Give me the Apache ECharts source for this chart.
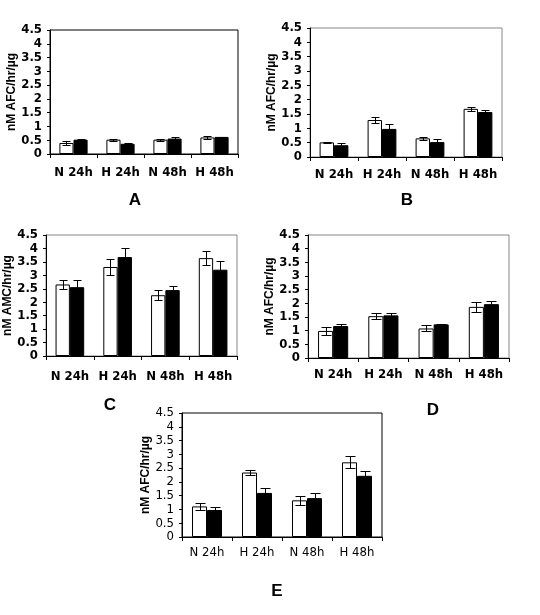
<!DOCTYPE html>
<html>
<head>
<meta charset="utf-8">
<script src="https://cdn.jsdelivr.net/npm/echarts@6/dist/echarts.min.js"></script>
<style>
html,body{margin:0;padding:0;background:#fff;}
#c{width:540px;height:615px;}
</style>
</head>
<body>
<div id="c"></div>
<script>
const categories = ['N 24h', 'H 24h', 'N 48h', 'H 48h'];

const aWhite = [0.40, 0.52, 0.52, 0.60];
const aWhiteErr = [0.07, 0.04, 0.04, 0.04];
const aBlack = [0.52, 0.37, 0.56, 0.62];
const aBlackErr = [0.03, 0.02, 0.07, 0.01];

const bWhite = [0.51, 1.29, 0.65, 1.68];
const bWhiteErr = [0.03, 0.10, 0.06, 0.07];
const bBlack = [0.41, 0.98, 0.52, 1.57];
const bBlackErr = [0.07, 0.17, 0.10, 0.07];

const cWhite = [2.66, 3.31, 2.26, 3.64];
const cWhiteErr = [0.16, 0.29, 0.19, 0.26];
const cBlack = [2.56, 3.68, 2.45, 3.21];
const cBlackErr = [0.25, 0.32, 0.17, 0.31];

const dWhite = [0.99, 1.53, 1.08, 1.87];
const dWhiteErr = [0.16, 0.11, 0.11, 0.17];
const dBlack = [1.17, 1.56, 1.23, 1.97];
const dBlackErr = [0.06, 0.10, 0.03, 0.13];

const eWhite = [1.11, 2.34, 1.33, 2.71];
const eWhiteErr = [0.12, 0.08, 0.17, 0.22];
const eBlack = [0.98, 1.60, 1.41, 2.22];
const eBlackErr = [0.10, 0.18, 0.20, 0.17];

const yMin = 0, yMax = 4.5, yStep = 0.5;

const panels = [
  {letter: 'A', name: 'nM AFC/hr/\u00b5g', white: aWhite, whiteErr: aWhiteErr, black: aBlack, blackErr: aBlackErr,
   grid: {left: 50, top: 30, width: 188, height: 124}, border: '#000', bold: true, nameGap: 30, labelMargin: 12,
   letterPos: [135, 200]},
  {letter: 'B', name: 'nM AFC/hr/\u00b5g', white: bWhite, whiteErr: bWhiteErr, black: bBlack, blackErr: bBlackErr,
   grid: {left: 310, top: 28, width: 192, height: 129}, border: '#888', bold: true, nameGap: 27, labelMargin: 11,
   letterPos: [407, 200]},
  {letter: 'C', name: 'nM AMC/hr/\u00b5g', white: cWhite, whiteErr: cWhiteErr, black: cBlack, blackErr: cBlackErr,
   grid: {left: 46, top: 235, width: 191, height: 121}, border: '#888', bold: true, nameGap: 29, labelMargin: 14,
   letterPos: [110, 405]},
  {letter: 'D', name: 'nM AFC/hr/\u00b5g', white: dWhite, whiteErr: dWhiteErr, black: dBlack, blackErr: dBlackErr,
   grid: {left: 308, top: 235, width: 201, height: 123}, border: '#888', bold: true, nameGap: 27, labelMargin: 10,
   letterPos: [433, 410]},
  {letter: 'E', name: 'nM AFC/hr/\u00b5g', white: eWhite, whiteErr: eWhiteErr, black: eBlack, blackErr: eBlackErr,
   grid: {left: 182, top: 413, width: 200, height: 124}, border: '#000', bold: false, nameGap: 28, labelMargin: 9,
   letterPos: [277, 591]}
];

const narrow = '"DejaVu Sans Condensed", "Liberation Sans Narrow", "DejaVu Sans", sans-serif';
const arial = '"Liberation Sans", Arial, sans-serif';

function errRender(sign) {
  return function (params, api) {
    const x = api.value(0), v = api.value(1), e = api.value(2);
    const catW = api.size([1, 0])[0];
    const off = sign * catW * 0.15;
    const c = api.coord([x, v]);
    const px = Math.round(c[0] + off) + 0.5;
    const top = Math.round(api.coord([x, v + e])[1]) + 0.5;
    const bot = Math.round(api.coord([x, v - e])[1]) + 0.5;
    const hw = Math.max(3, Math.round(catW * 0.3 * 0.3));
    const st = {stroke: '#000', lineWidth: 1};
    return {
      type: 'group',
      children: [
        {type: 'line', shape: {x1: px, y1: top, x2: px, y2: bot}, style: st},
        {type: 'line', shape: {x1: px - hw, y1: top, x2: px + hw, y2: top}, style: st},
        {type: 'line', shape: {x1: px - hw, y1: bot, x2: px + hw, y2: bot}, style: st}
      ]
    };
  };
}

const grids = [], xAxes = [], yAxes = [], series = [], graphics = [];
panels.forEach((p, i) => {
  grids.push(Object.assign({show: true, borderColor: p.border, borderWidth: 1, backgroundColor: 'transparent', containLabel: false}, p.grid));
  xAxes.push({
    type: 'category', gridIndex: i, data: categories,
    axisLine: {lineStyle: {color: '#000', width: 1}},
    axisTick: {show: true, inside: false, length: 4, interval: 0, lineStyle: {color: '#000'}},
    axisLabel: {interval: 0, hideOverlap: false, color: '#000', fontFamily: narrow, fontStyle: 'condensed',
      fontWeight: p.bold ? 'bold' : 'normal', fontSize: 13, margin: p.labelMargin}
  });
  yAxes.push({
    type: 'value', gridIndex: i, min: yMin, max: yMax, interval: yStep,
    name: p.name, nameLocation: 'middle', nameGap: p.nameGap,
    nameTextStyle: {color: '#000', fontFamily: arial, fontWeight: 'bold', fontSize: 12},
    axisLine: {show: true, lineStyle: {color: '#000', width: 1}},
    axisTick: {show: true, length: 3, lineStyle: {color: '#000'}},
    splitLine: {show: false},
    axisLabel: {showMinLabel: true, showMaxLabel: true, hideOverlap: false, color: '#000', fontFamily: narrow,
      fontStyle: 'condensed', fontWeight: p.bold ? 'bold' : 'normal', fontSize: 13, margin: 8}
  });
  series.push({
    type: 'bar', xAxisIndex: i, yAxisIndex: i, data: p.white,
    barGap: '0%', barCategoryGap: '40%',
    itemStyle: {color: '#fff', borderColor: '#000', borderWidth: 1},
    animation: false
  });
  series.push({
    type: 'bar', xAxisIndex: i, yAxisIndex: i, data: p.black,
    barGap: '0%', barCategoryGap: '40%',
    itemStyle: {color: '#000', borderColor: '#000', borderWidth: 1},
    animation: false
  });
  series.push({
    type: 'custom', xAxisIndex: i, yAxisIndex: i, z: 5,
    data: p.white.map((v, k) => [k, v, p.whiteErr[k]]),
    encode: {x: 0, y: 1},
    renderItem: errRender(-1), animation: false
  });
  series.push({
    type: 'custom', xAxisIndex: i, yAxisIndex: i, z: 5,
    data: p.black.map((v, k) => [k, v, p.blackErr[k]]),
    encode: {x: 0, y: 1},
    renderItem: errRender(1), animation: false
  });
  graphics.push({
    type: 'text', x: p.letterPos[0], y: p.letterPos[1],
    style: {text: p.letter, fill: '#000', font: 'bold 17px ' + arial, textAlign: 'center', textVerticalAlign: 'middle'}
  });
});

const chart = echarts.init(document.getElementById('c'), null, {renderer: 'canvas'});
chart.setOption({
  backgroundColor: '#fff',
  animation: false,
  grid: grids,
  xAxis: xAxes,
  yAxis: yAxes,
  series: series,
  graphic: graphics
});
</script>
</body>
</html>
